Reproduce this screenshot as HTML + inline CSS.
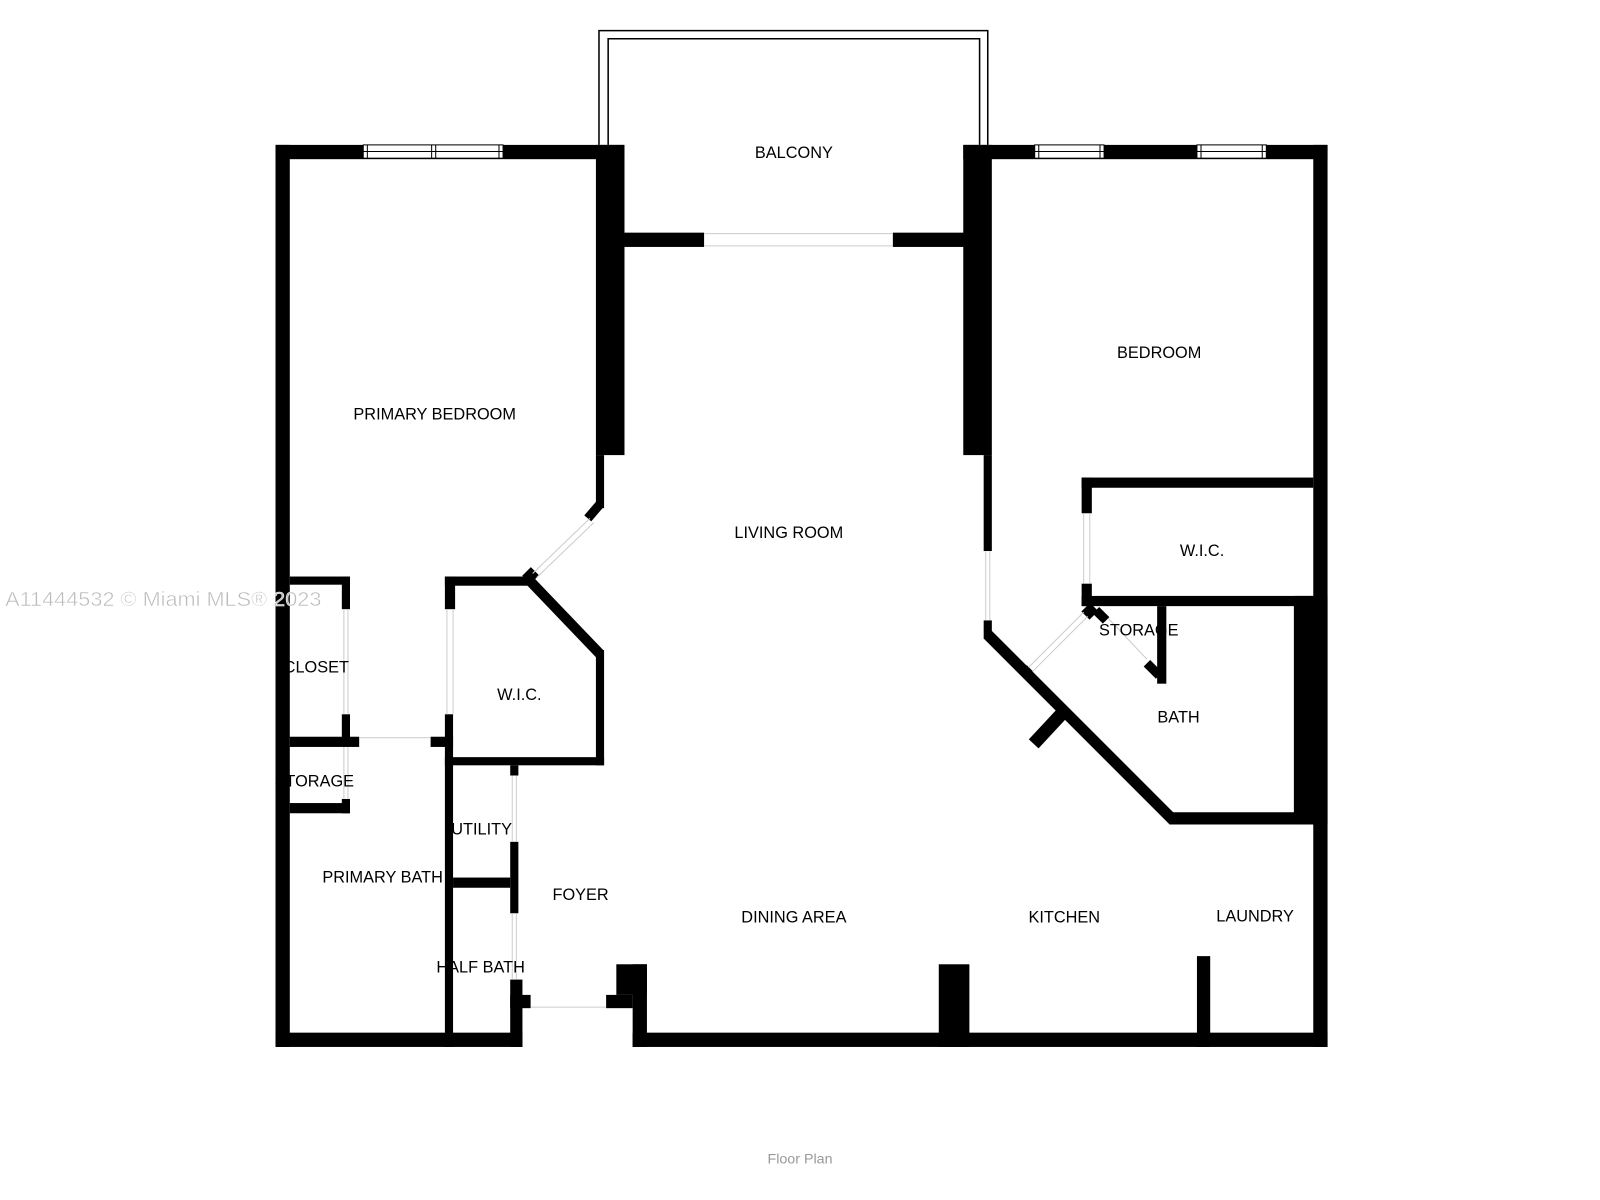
<!DOCTYPE html>
<html><head><meta charset="utf-8"><style>
html,body{margin:0;padding:0;background:#fff;}
svg{display:block;}
text{font-family:"Liberation Sans",sans-serif;font-size:16px;fill:#000;}
</style></head><body>
<svg width="1600" height="1200" viewBox="0 0 1568 1176" xmlns="http://www.w3.org/2000/svg">
<rect x="0" y="0" width="1568" height="1176" fill="#fff"/>
<path d="M587,142 V30 H968 V142" fill="none" stroke="#000" stroke-width="1.5"/>
<path d="M596,142 V38 H960 V142" fill="none" stroke="#000" stroke-width="1.5"/>
<g fill="#000">
<rect x="270" y="142" width="14" height="884"/>
<rect x="270" y="142" width="342" height="14"/>
<rect x="584" y="142" width="28" height="304"/>
<rect x="584" y="446" width="8" height="52"/>
<rect x="612" y="228" width="78" height="14"/>
<rect x="875" y="228" width="70" height="14"/>
<rect x="944" y="142" width="28" height="304"/>
<rect x="944" y="142" width="357" height="14"/>
<rect x="1287" y="142" width="14" height="884"/>
<rect x="964" y="446" width="8" height="94"/>
<rect x="964" y="608" width="8" height="18"/>
<rect x="1060" y="468" width="227" height="10"/>
<rect x="1060" y="468" width="10" height="35"/>
<rect x="1060" y="572" width="10" height="22"/>
<rect x="1060" y="584" width="227" height="10"/>
<rect x="1268" y="584" width="33" height="224"/>
<rect x="1134" y="594" width="9" height="76"/>
<rect x="1146" y="796" width="141" height="12"/>
<rect x="270" y="1012" width="242" height="14"/>
<rect x="620" y="1012" width="681" height="14"/>
<rect x="920" y="945" width="30" height="81"/>
<rect x="604" y="945" width="30" height="30"/>
<rect x="620" y="945" width="14" height="81"/>
<rect x="594" y="975" width="26" height="13"/>
<rect x="1173" y="937" width="13" height="89"/>
<rect x="500" y="960" width="12" height="66"/>
<rect x="500" y="975" width="20" height="13"/>
<rect x="284" y="565" width="59" height="8"/>
<rect x="335" y="565" width="8" height="32"/>
<rect x="335" y="700" width="8" height="30"/>
<rect x="284" y="722" width="68" height="10"/>
<rect x="422" y="722" width="22" height="10"/>
<rect x="335" y="783" width="8" height="14"/>
<rect x="284" y="787" width="59" height="10"/>
<rect x="436" y="565" width="10" height="32"/>
<rect x="436" y="700" width="8" height="326"/>
<rect x="436" y="565" width="84" height="9"/>
<rect x="584" y="637" width="8" height="113"/>
<rect x="436" y="742" width="156" height="8"/>
<rect x="500" y="750" width="8" height="10"/>
<rect x="500" y="825" width="8" height="70"/>
<rect x="444" y="860" width="56" height="10"/>
</g>
<g stroke="#000" fill="none" stroke-linecap="butt">
<line x1="520" y1="570" x2="588" y2="641" stroke-width="10"/>
<line x1="588" y1="494" x2="576" y2="508" stroke-width="9"/>
<line x1="516" y1="560" x2="524" y2="568" stroke-width="12"/>
<line x1="968" y1="622" x2="1150" y2="804" stroke-width="11"/>
<line x1="1040" y1="700" x2="1013" y2="729" stroke-width="13"/>
<line x1="1064" y1="595" x2="1072" y2="603" stroke-width="12"/>
<line x1="1074" y1="598" x2="1084" y2="608" stroke-width="9"/>
<line x1="1124" y1="650" x2="1136" y2="662" stroke-width="9"/>
<line x1="1003" y1="655" x2="1009" y2="661" stroke-width="9"/>
</g>
<g stroke="#ccc" stroke-width="1" fill="none">
<path d="M690,229 H875 M690,241 H875"/>
<path d="M578,508 L522,562 M582,512 L526,566"/>
<path d="M966,540 V608 M970,540 V608"/>
<path d="M1062,503 V572 M1068,503 V572"/>
<path d="M1008,654 L1062,600 M1012,658 L1066,604"/>
<path d="M1086,606 L1124,646"/>
<path d="M337,597 V700 M341,597 V700"/>
<path d="M438,597 V700 M444,597 V700"/>
<path d="M352,723 H422"/>
<path d="M337,732 V783 M341,732 V783"/>
<path d="M502,760 V825 M506,760 V825"/>
<path d="M502,895 V960 M506,895 V960"/>
<path d="M520,987 H594"/>
</g>
<g fill="#fff" stroke="#000" stroke-width="1">
<rect x="356" y="142" width="137" height="13"/>
<line x1="356" y1="148.5" x2="493" y2="148.5"/>
<line x1="423" y1="142" x2="423" y2="155"/><line x1="427" y1="142" x2="427" y2="155"/>
<line x1="360" y1="142" x2="360" y2="155"/><line x1="489" y1="142" x2="489" y2="155"/>
<rect x="1014" y="142" width="68" height="13"/>
<line x1="1014" y1="148.5" x2="1082" y2="148.5"/>
<line x1="1018" y1="142" x2="1018" y2="155"/><line x1="1078" y1="142" x2="1078" y2="155"/>
<rect x="1173" y="142" width="68" height="13"/>
<line x1="1173" y1="148.5" x2="1241" y2="148.5"/>
<line x1="1177" y1="142" x2="1177" y2="155"/><line x1="1237" y1="142" x2="1237" y2="155"/>
</g>
<g text-anchor="middle">
<text x="778" y="155">BALCONY</text>
<text x="426" y="411">PRIMARY BEDROOM</text>
<text x="1136" y="351">BEDROOM</text>
<text x="773" y="527">LIVING ROOM</text>
<text x="1178" y="545">W.I.C.</text>
<text x="1116" y="623">STORAGE</text>
<text x="1155" y="708">BATH</text>
<text x="509" y="686">W.I.C.</text>
<text x="310" y="659">CLOSET</text>
<text x="308" y="771">STORAGE</text>
<text x="472" y="818">UTILITY</text>
<text x="375" y="865">PRIMARY BATH</text>
<text x="569" y="882">FOYER</text>
<text x="778" y="904">DINING AREA</text>
<text x="1043" y="904">KITCHEN</text>
<text x="1230" y="903">LAUNDRY</text>
<text x="471" y="953">HALF BATH</text>
</g>
<text x="5" y="594" textLength="310" lengthAdjust="spacingAndGlyphs" style="font-size:20px;fill:#bbb;stroke:#fff;stroke-width:0.5">A11444532 © Miami MLS® 2023</text>
<text x="784" y="1140" text-anchor="middle" style="font-size:14px;fill:#999">Floor Plan</text>
</svg>
</body></html>
